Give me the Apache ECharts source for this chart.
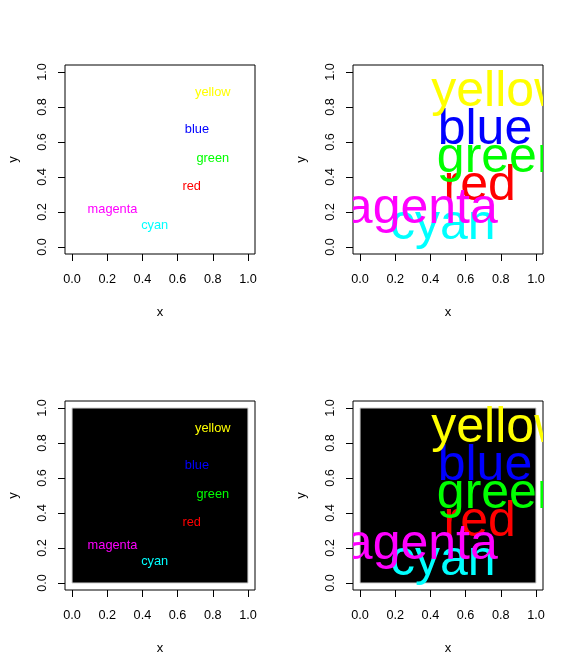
<!DOCTYPE html>
<html>
<head>
<meta charset="utf-8">
<script src="https://cdn.jsdelivr.net/npm/echarts@6/dist/echarts.min.js"></script>
<style>html,body{margin:0;padding:0;background:#fff}#c{width:576px;height:672px}</style>
</head>
<body>
<div id="c"></div>
<script>
// ---- data ----
const labels = ['red', 'green', 'blue', 'cyan', 'magenta', 'yellow'];
const textColors = ['#ff0000', '#00ff00', '#0000ff', '#00ffff', '#ff00ff', '#ffff00'];
const xValues = [0.68, 0.80, 0.71, 0.47, 0.23, 0.80];
const yValues = [0.345, 0.505, 0.67, 0.125, 0.215, 0.885];
const tickValues = [0, 0.2, 0.4, 0.6, 0.8, 1];
const tickLabels = ['0.0', '0.2', '0.4', '0.6', '0.8', '1.0'];
const backRect = [[0, 0], [1, 1]];

// ---- layout ----
const FONT = 'Liberation Sans, Arial, Helvetica, sans-serif';
const panels = [
  { left: 65,  top: 65,  big: false, dark: false },
  { left: 353, top: 65,  big: true,  dark: false },
  { left: 65,  top: 401, big: false, dark: true },
  { left: 353, top: 401, big: true,  dark: true }
];
const W = 190, H = 189;

const grids = [], xAxes = [], yAxes = [], series = [];
const pointData = labels.map((l, i) => [xValues[i], yValues[i], l, textColors[i]]);
const fmt = v => tickLabels[tickValues.findIndex(t => Math.abs(t - v) < 1e-9)];

panels.forEach((p, i) => {
  grids.push({ left: p.left, top: p.top, width: W, height: H, show: true,
    borderColor: '#000', borderWidth: 1, backgroundColor: 'transparent', containLabel: false });
  const common = {
    gridIndex: i, type: 'value', min: -0.04, max: 1.04,
    splitLine: { show: false },
    axisLine: { show: false, onZero: false },
    axisTick: { show: true, inside: false, length: 7, customValues: tickValues,
      lineStyle: { color: '#000', width: 1 } },
    nameLocation: 'middle',
    nameTextStyle: { fontFamily: FONT, fontSize: 13, color: '#000' }
  };
  xAxes.push(Object.assign({}, common, {
    position: 'bottom',
    name: 'x', nameGap: 52,
    axisLabel: { customValues: tickValues, margin: 19, fontFamily: FONT, fontSize: 12.7, color: '#000', formatter: fmt }
  }));
  yAxes.push(Object.assign({}, common, {
    position: 'left',
    name: 'y', nameGap: 45, nameRotate: 90,
    axisLabel: { customValues: tickValues, margin: 16, rotate: 90, fontFamily: FONT, fontSize: 12.7, color: '#000', formatter: fmt }
  }));

  if (p.dark) {
    series.push({
      type: 'custom', xAxisIndex: i, yAxisIndex: i, coordinateSystem: 'cartesian2d',
      silent: true, z: 1, data: [[backRect[0][0], backRect[0][1], backRect[1][0], backRect[1][1]]],
      renderItem: function (params, api) {
        const a = api.coord([api.value(0), api.value(1)]);
        const b = api.coord([api.value(2), api.value(3)]);
        return { type: 'rect', shape: { x: a[0], y: b[1], width: b[0] - a[0], height: a[1] - b[1] },
          style: { fill: '#000', stroke: '#d0d0d0', lineWidth: 1 } };
      }
    });
  }
  series.push({
    type: 'custom', xAxisIndex: i, yAxisIndex: i, coordinateSystem: 'cartesian2d',
    silent: true, z: 2, clip: true, data: pointData,
    renderItem: function (params, api) {
      const c = api.coord([api.value(0), api.value(1)]);
      const d = pointData[params.dataIndex];
      return { type: 'text', x: c[0], y: c[1],
        style: { text: d[2], fill: d[3], fontFamily: FONT, fontSize: p.big ? 50 : 12.8,
          align: 'center', verticalAlign: 'middle' } };
    }
  });
});

const chart = echarts.init(document.getElementById('c'), null, { renderer: 'canvas' });
chart.setOption({
  animation: false,
  backgroundColor: '#fff',
  grid: grids, xAxis: xAxes, yAxis: yAxes, series: series
});
</script>
</body>
</html>
